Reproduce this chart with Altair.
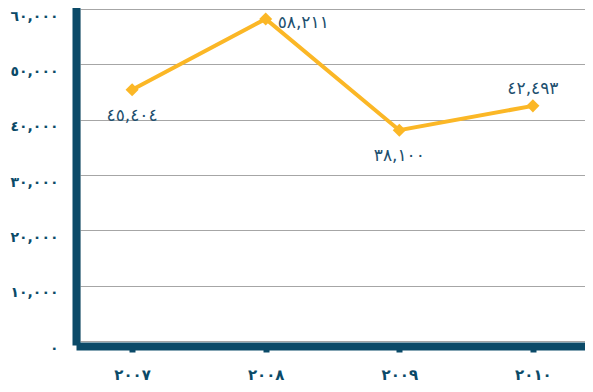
import altair as alt
import pandas as pd

# data
years = ["٢٠٠٧", "٢٠٠٨", "٢٠٠٩", "٢٠١٠"]
values = [45404, 58211, 38100, 42493]
value_labels = ["٤٥,٤٠٤", "٥٨,٢١١", "٣٨,١٠٠", "٤٢,٤٩٣"]
label_below = ["٢٠٠٧", "٢٠٠٩"]
label_above = ["٢٠١٠"]
label_side = ["٢٠٠٨"]
y_ticks = [0, 10000, 20000, 30000, 40000, 50000, 60000]
y_tick_labels = ["٠", "١٠,٠٠٠", "٢٠,٠٠٠", "٣٠,٠٠٠", "٤٠,٠٠٠", "٥٠,٠٠٠", "٦٠,٠٠٠"]

df = pd.DataFrame({"year": years, "value": values, "label": value_labels})

TEAL = "#0B4A68"
GOLD = "#FBB726"
LABEL = "#1D4F6E"
FONT = "DejaVu Sans"

label_expr = "[" + ",".join("'%s'" % s for s in y_tick_labels) + "][round(datum.value/10000)]"

x_enc = alt.X(
    "year:N",
    sort=years,
    scale=alt.Scale(type="point", padding=0.39),
    axis=alt.Axis(
        title=None, orient="bottom", offset=5, domainWidth=8, domainColor=TEAL,
        domainCap="square", ticks=True, tickColor=TEAL, tickWidth=6, tickSize=6,
        labelPadding=15, labelBaseline="top", labelFontSize=15, labelFontWeight="bold",
        labelColor=TEAL, labelFont=FONT, labelAngle=0, grid=False,
    ),
)
y_enc = alt.Y(
    "value:Q",
    scale=alt.Scale(domain=[0, 60000], nice=False, zero=True),
    axis=alt.Axis(
        title=None, orient="left", offset=4, domainWidth=8, domainColor=TEAL,
        domainCap="square", ticks=False, tickSize=0, values=y_ticks,
        labelExpr=label_expr, labelPadding=18, labelBaseline="top",
        labelFontSize=14, labelFontWeight="bold", labelColor=TEAL, labelFont=FONT,
        grid=True, gridColor="#A6A6A6", gridWidth=1,
    ),
)

base = alt.Chart(df).encode(x=x_enc, y=y_enc)

line = base.mark_line(color=GOLD, strokeWidth=4)
points = base.mark_point(shape="diamond", filled=True, size=170, color=GOLD, opacity=1)


def labels(which, **kw):
    return base.transform_filter(
        alt.FieldOneOfPredicate(field="year", oneOf=which)
    ).mark_text(fontSize=17, color=LABEL, font=FONT, baseline="middle", **kw).encode(text="label:N")


above = labels(label_above, dy=-17)
below = labels(label_below, dy=26)
side = labels(label_side, dx=12, dy=4, align="left")

chart = (
    alt.layer(line, points, above, below, side)
    .properties(
        width=505, height=332,
        autosize=alt.AutoSizeParams(type="none"),
        padding={"left": 72, "top": 1, "right": 0, "bottom": 43},
    )
    .configure_view(stroke=None)
    .configure(background="white")
)

chart.save("out.html", embed_options={"renderer": "svg", "actions": False})
